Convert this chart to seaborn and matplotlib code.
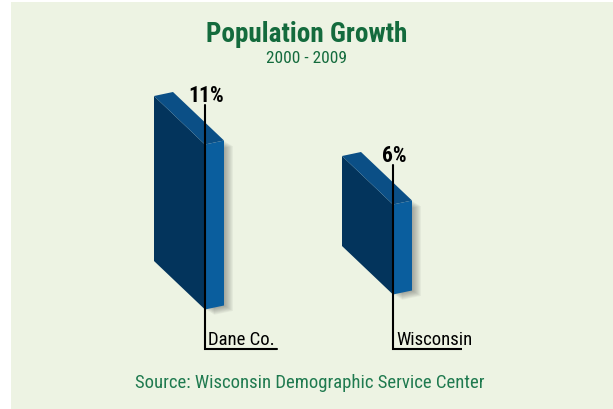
import numpy as np
import pandas as pd
import matplotlib
matplotlib.use("Agg")
import matplotlib.pyplot as plt
from matplotlib.patches import Polygon, Rectangle
from matplotlib.transforms import Affine2D
import seaborn as sns

# ---- data ----
categories = ["Dane Co.", "Wisconsin"]
growth = [11, 6]
value_labels = ["11%", "6%"]
title = "Population Growth"
subtitle = "2000 - 2009"
source = "Source: Wisconsin Demographic Service Center"

# ---- layout / style ----
W, H = 613, 410
sns.set_theme(style="white")
NARROW = ["Roboto Condensed", "DejaVu Sans"]
plt.rcParams["font.family"] = NARROW

FRONT = "#03345c"
SIDE = "#0a5e9e"
TOP = "#0b4f86"
BG = "#edf3e3"
GREEN_T = "#146b3d"
GREEN_S = "#1f7a4f"

fig = plt.figure(figsize=(W / 100, H / 100), dpi=100)
fig.patch.set_facecolor("white")
fig.patches.append(Rectangle((11 / W, 0), 1 - 11 / W, 1 - 3 / H,
                             transform=fig.transFigure, facecolor=BG,
                             edgecolor="none", zorder=-10))

px_cat = 188.0   # pixels between category centres
px_pct = 15.0    # pixels per percentage point
base_px = 262.0  # pixel row of the first bar's bottom-left corner
ax = fig.add_axes([(179.5 - 0.5 * px_cat) / W, 0, 2 * px_cat / W, 1])
ax.patch.set_alpha(0)

df = pd.DataFrame({"region": categories, "growth": growth})
bar_w = 51 / px_cat
sns.barplot(data=df, x="region", y="growth", ax=ax, width=bar_w,
            color=FRONT, saturation=1, edgecolor="none", linewidth=0, zorder=3)
ax.set_xlim(-0.5, 1.5)
ax.set_ylim(-(H - base_px) / px_pct, base_px / px_pct)
ax.axis("off")

def px_x(p):
    return p / px_cat

def px_y(p):
    return p / px_pct

bases = [0.0, 1.0]          # vertical offset of each slab (layout)
drop = px_y(48.5)           # fall of the front face across its width
dx, dy = px_x(19), px_y(4)  # depth of the slab
line_bottom = -(350 - base_px) / px_pct

fig.canvas.draw()
renderer = fig.canvas.get_renderer()

for p, base, cat, lab in zip(ax.patches, bases, categories, value_labels):
    p.set_y(base)
    x0 = p.get_x()
    w = p.get_width()
    h = p.get_height()
    k = drop / w
    M = np.array([[1, 0, 0], [-k, 1, k * x0], [0, 0, 1]])
    p.set_transform(Affine2D(M) + ax.transData)
    xr = x0 + w
    top = base + h
    side = [(xr, top - drop), (xr + dx, top - drop + dy),
            (xr + dx, base - drop + dy), (xr, base - drop)]
    topf = [(x0, top), (x0 + dx, top + dy), (xr + dx, top - drop + dy), (xr, top - drop)]
    # soft shadow
    for i in range(1, 10):
        sh = [(x + px_x(i), y - px_y(i * 0.6)) for x, y in side]
        ax.add_patch(Polygon(sh, closed=True, facecolor="#3a3a3a",
                             edgecolor="none", alpha=0.05, zorder=1))
    ax.add_patch(Polygon(side, closed=True, facecolor=SIDE, edgecolor="none", zorder=4))
    ax.add_patch(Polygon(topf, closed=True, facecolor=TOP, edgecolor="none", zorder=4))

    lx = xr - px_x(0.5)
    ltop = top - px_y(9)
    t = ax.text(lx + px_x(4), line_bottom + px_y(5), cat, ha="left", va="baseline",
                fontsize=13.5, color="black", zorder=6)
    bb = t.get_window_extent(renderer=renderer).transformed(ax.transData.inverted())
    ax.plot([lx, lx, bb.x1 + px_x(1.5)], [ltop, line_bottom, line_bottom],
            color="black", lw=1.5, zorder=5, solid_joinstyle="miter")
    ax.text(lx + px_x(2), ltop + px_y(4), lab, ha="center", va="baseline",
            fontsize=15.5, fontweight="bold", color="black", zorder=6)

fig.text(307 / W, 1 - 34 / H, title, ha="center", va="center",
         fontsize=19.5, fontweight="bold", color=GREEN_T)
fig.text(307 / W, 1 - 58.5 / H, subtitle, ha="center", va="center",
         fontsize=12.5, color=GREEN_T)
fig.text(310 / W, 1 - 383 / H, source, ha="center", va="center",
         fontsize=13.5, color=GREEN_S)

fig.savefig("out.png", dpi=100, facecolor="white")
